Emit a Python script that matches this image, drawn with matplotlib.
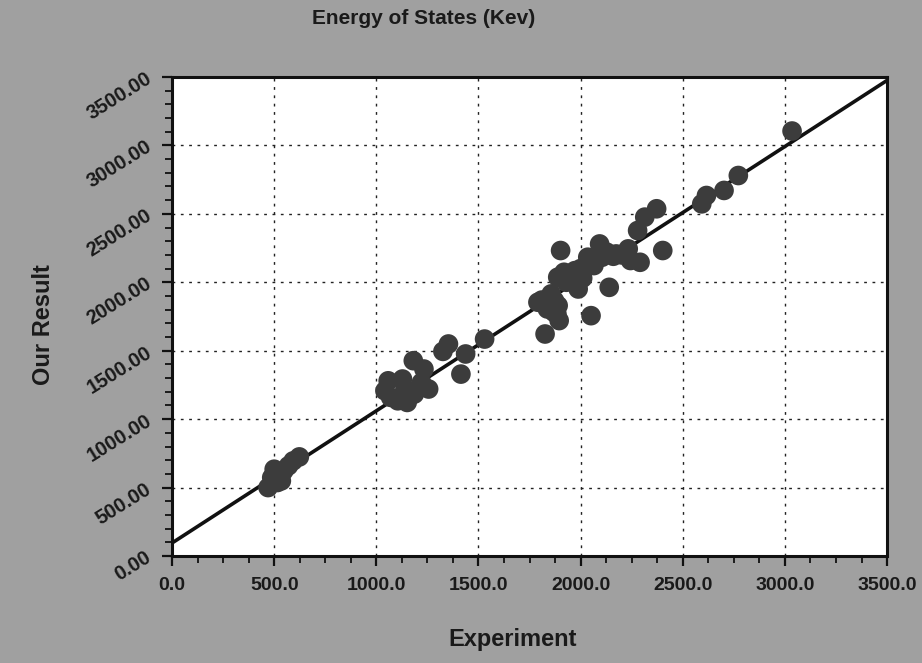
import matplotlib
matplotlib.use("Agg")
import matplotlib.pyplot as plt
from matplotlib.ticker import MultipleLocator, FormatStrFormatter

experiment = [470, 488, 500, 516, 535, 547, 570, 593, 623,
              1042, 1058, 1070, 1105, 1128, 1140, 1151, 1181, 1186, 1221, 1233, 1256,
              1326, 1353, 1414, 1437, 1530,
              1791, 1810, 1826, 1837, 1850, 1856, 1870, 1872, 1884, 1888, 1890, 1895,
              1902, 1919, 1930, 1950, 1972, 1988, 2000, 2010, 2035, 2051, 2060, 2065,
              2093, 2105, 2128, 2140, 2160, 2174, 2200, 2233, 2244, 2279, 2291, 2314,
              2372, 2402, 2593, 2616, 2702, 2772, 3035]
our_result = [500, 573, 634, 537, 549, 622, 659, 695, 724,
              1207, 1280, 1159, 1134, 1293, 1220, 1122, 1427, 1183, 1268, 1366, 1220,
              1495, 1549, 1329, 1476, 1585,
              1854, 1870, 1622, 1805, 1880, 1915, 1780, 1866, 1768, 2037, 1830, 1720,
              2232, 2073, 2000, 2050, 2085, 1951, 2100, 2030, 2183, 1756, 2170, 2122,
              2280, 2183, 2220, 1963, 2190, 2207, 2200, 2244, 2159, 2378, 2146, 2476,
              2537, 2232, 2573, 2634, 2671, 2780, 3105]
fit_x = [0, 3500]
fit_y = [95, 3475]

x_ticks = [0, 500, 1000, 1500, 2000, 2500, 3000, 3500]
y_ticks = [0, 500, 1000, 1500, 2000, 2500, 3000, 3500]

fig = plt.figure(figsize=(9.22, 6.63), dpi=100, facecolor="#a0a0a0")
ax = fig.add_axes([0.1866, 0.1614, 0.7755, 0.7225])
ax.set_facecolor("white")

ax.plot(fit_x, fit_y, color="#111111", lw=2.6, zorder=3)
ax.scatter(experiment, our_result, s=200, color="#3c3c3c", edgecolors="none", zorder=4)

ax.set_xlim(0, 3500)
ax.set_ylim(0, 3500)
ax.set_xticks(x_ticks)
ax.set_yticks(y_ticks)
ax.xaxis.set_minor_locator(MultipleLocator(125))
ax.yaxis.set_minor_locator(MultipleLocator(100))
ax.xaxis.set_major_formatter(FormatStrFormatter("%.1f"))
ax.yaxis.set_major_formatter(FormatStrFormatter("%.2f"))
ax.grid(True, which="major", color="#222222", linestyle=(0, (2, 4)), lw=1.0)

for sp in ax.spines.values():
    sp.set_linewidth(2.2)
    sp.set_color("#111111")

ax.tick_params(axis="both", which="major", direction="out", length=7, width=1.6, colors="#111111")
ax.tick_params(axis="both", which="minor", direction="out", length=5, width=1.3, colors="#111111")
ax.tick_params(axis="x", which="major", pad=8)
ax.tick_params(axis="y", which="major", pad=9)

for lab in ax.get_xticklabels():
    lab.set_fontweight("bold")
    lab.set_fontsize(14)
    lab.set_family("Liberation Sans")
    lab.set_color("#1a1a1a")
for lab in ax.get_yticklabels():
    lab.set_fontweight("bold")
    lab.set_fontsize(14.5)
    lab.set_family("Liberation Sans")
    lab.set_rotation(32)
    lab.set_rotation_mode("anchor")
    lab.set_ha("right")
    lab.set_va("center")
    lab.set_color("#1a1a1a")

fig.text(0.459, 0.972, "Energy of States (Kev)", ha="center", va="center",
         fontsize=15, fontweight="bold", family="Liberation Sans", color="#1a1a1a")
fig.text(0.556, 0.035, "Experiment", ha="center", va="center",
         fontsize=17, fontweight="bold", family="Liberation Sans", color="#1a1a1a")
fig.text(0.047, 0.51, "Our Result", ha="center", va="center", rotation=90,
         fontsize=17, fontweight="bold", family="Liberation Sans", color="#1a1a1a")

fig.savefig("out.png", dpi=100, facecolor=fig.get_facecolor())
